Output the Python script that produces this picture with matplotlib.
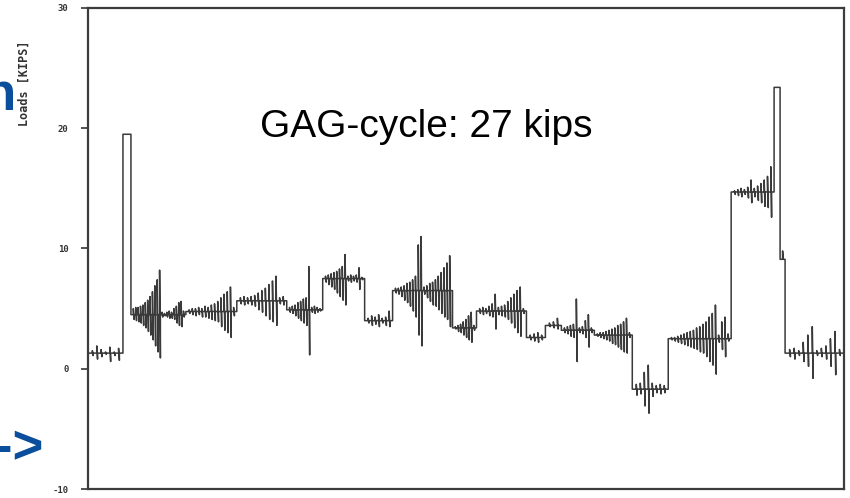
import matplotlib.pyplot as plt
import numpy as np

# load blocks: start / end along the sequence, mean level, and cycle peaks/troughs [kips]
block_start = [0, 35, 43, 98, 149, 199, 235, 277, 305, 365, 389, 439, 458, 474,
               507, 545, 581, 644, 687, 693, 698]
block_end = [35, 43, 98, 149, 199, 235, 277, 305, 365, 389, 439, 458, 474, 507,
             545, 581, 644, 687, 693, 698, 757]
block_mean = [1.3, 19.5, 4.5, 4.76, 5.65, 4.9, 7.5, 4.0, 6.5, 3.4, 4.8, 2.6, 3.6, 3.2,
              2.8, -1.7, 2.5, 14.7, 23.4, 9.1, 1.3]

cycle_peaks = [
    [1.5, 1.9, 1.6, 1.4, 1.8, 1.4, 1.7],
    [],
    [5.0, 5.1, 5.1, 5.2, 5.3, 5.5, 5.7, 6.0, 6.4, 6.9, 7.4, 8.2, 4.7, 4.6, 4.7, 4.8,
     4.7, 5.0, 5.2, 5.5, 5.6, 4.8],
    [4.9, 5.0, 5.0, 5.1, 5.0, 5.2, 5.1, 5.3, 5.4, 5.6, 5.9, 6.2, 6.4, 6.8, 5.1],
    [5.9, 6.0, 5.9, 6.0, 6.1, 6.3, 6.5, 6.7, 7.0, 7.3, 7.7, 5.9, 6.0],
    [5.1, 5.2, 5.3, 5.5, 5.6, 5.8, 5.9, 8.5, 5.1, 5.2, 5.1, 5.0],
    [7.7, 7.8, 7.9, 8.0, 8.1, 8.3, 8.5, 9.5, 7.7, 7.8, 7.7, 7.8, 8.4, 7.6],
    [4.2, 4.4, 4.3, 4.5, 4.2, 4.3, 4.8],
    [6.7, 6.7, 6.8, 6.9, 7.1, 7.2, 7.4, 7.7, 10.3, 11.0, 6.8, 6.9, 7.1, 7.2, 7.4, 7.7,
     8.0, 8.4, 8.8, 9.4],
    [3.5, 3.6, 3.7, 3.9, 4.1, 4.4, 4.7, 3.6],
    [5.0, 5.1, 5.0, 5.2, 5.4, 6.2, 5.1, 5.2, 5.3, 5.6, 5.9, 6.2, 6.5, 6.8, 5.0],
    [2.8, 2.9, 3.0, 2.8],
    [3.8, 3.9, 4.2],
    [3.4, 3.5, 3.6, 3.7, 5.8, 3.4, 3.5, 4.0, 4.5, 3.4],
    [2.9, 3.0, 3.0, 3.1, 3.2, 3.3, 3.4, 3.6, 3.7, 3.9, 4.2, 3.0],
    [-1.3, -1.2, -0.3, 0.3, -1.2, -1.4, -1.3, -1.4],
    [2.6, 2.6, 2.7, 2.8, 2.9, 3.0, 3.1, 3.2, 3.4, 3.5, 3.7, 3.9, 4.3, 4.6, 5.3, 2.8,
     3.9, 4.3, 2.9],
    [14.8, 14.9, 15.0, 14.9, 15.1, 15.7, 15.0, 15.2, 15.4, 15.7, 16.0, 16.8],
    [],
    [9.8],
    [1.6, 1.7, 1.5, 2.2, 2.8, 3.5, 1.5, 1.7, 1.9, 2.5, 3.1, 1.6],
]
cycle_troughs = [
    [1.1, 0.8, 1.0, 1.2, 0.6, 1.1, 0.7],
    [],
    [4.1, 4.0, 3.9, 3.8, 3.6, 3.4, 3.1, 2.8, 2.4, 1.9, 1.4, 0.9, 4.3, 4.4, 4.3, 4.2,
     4.2, 4.1, 3.8, 3.6, 3.5, 4.3],
    [4.6, 4.5, 4.4, 4.5, 4.3, 4.3, 4.2, 4.1, 4.0, 3.9, 3.5, 3.2, 3.0, 2.6, 4.4],
    [5.4, 5.3, 5.4, 5.3, 5.2, 4.9, 4.7, 4.4, 4.1, 3.9, 3.6, 5.4, 5.3],
    [4.7, 4.6, 4.4, 4.2, 4.0, 3.8, 3.6, 1.15, 4.7, 4.6, 4.7, 4.8],
    [7.2, 7.0, 6.8, 6.6, 6.3, 6.0, 5.7, 5.3, 7.3, 7.2, 7.3, 7.2, 6.6, 7.4],
    [3.8, 3.6, 3.7, 3.5, 3.8, 3.6, 3.5],
    [6.3, 6.2, 6.0, 5.7, 5.5, 5.2, 4.8, 4.3, 2.8, 1.9, 6.2, 5.9, 5.6, 5.3, 5.2, 4.9,
     4.6, 4.3, 4.1, 3.5],
    [3.3, 3.1, 3.0, 2.8, 2.6, 2.4, 2.2, 3.2],
    [4.6, 4.5, 4.6, 4.4, 4.3, 3.3, 4.5, 4.4, 4.3, 4.1, 3.8, 3.4, 3.0, 2.7, 4.6],
    [2.4, 2.3, 2.2, 2.4],
    [3.5, 3.4, 3.3],
    [3.0, 2.9, 2.7, 2.6, 0.6, 3.0, 2.9, 2.6, 1.8, 3.0],
    [2.7, 2.6, 2.5, 2.4, 2.3, 2.1, 2.0, 1.8, 1.6, 1.4, 1.3, 2.6],
    [-2.2, -2.1, -3.1, -3.7, -2.3, -2.0, -2.1, -2.0],
    [2.4, 2.3, 2.2, 2.1, 2.0, 1.9, 1.8, 1.7, 1.6, 1.4, 1.3, 1.0, 0.6, 0.3, -0.45, 2.2,
     1.6, 1.0, 2.3],
    [14.5, 14.4, 14.3, 14.5, 14.2, 13.8, 14.3, 14.0, 13.8, 13.5, 13.4, 12.6],
    [],
    [9.1],
    [1.0, 0.8, 1.1, 0.6, 0.2, -0.8, 1.1, 1.0, 0.8, 0.2, -0.5, 1.1],
]

yticks = [-10, 0, 10, 20, 30]

# build the load history as one polyline
t, load = [], []
for s, e, m, pk, tr in zip(block_start, block_end, block_mean, cycle_peaks, cycle_troughs):
    t.append(s)
    load.append(m)
    n = len(pk)
    for i in range(n):
        p = s + (e - s) * (i + 1) / (n + 1)
        t += [p, p, p + 0.8, p + 0.8]
        load += [m, pk[i], tr[i], m]
    t.append(e)
    load.append(m)

fig = plt.figure(figsize=(8.5, 4.98), dpi=100)
ax = fig.add_axes([88 / 850, 1 - 489 / 498, 756 / 850, 481 / 498])

ax.plot(t, load, color="#3a3a3a", lw=1.1)

ax.set_xlim(0, 757)
ax.set_ylim(-10, 30)
ax.set_xticks([])
ax.set_yticks(yticks)
ax.set_yticklabels([str(v) for v in yticks], family="DejaVu Sans Mono",
                   fontsize=6.5, fontweight="bold", color="#333333")
ax.tick_params(axis="y", direction="out", length=5, width=1.3, color="#444444", pad=9)
for sp in ax.spines.values():
    sp.set_color("#3c3c3c")
    sp.set_linewidth(1.6)

fig.text(24 / 850, 1 - 83 / 498, "Loads [KIPS]", rotation=90, ha="center", va="center",
         family="DejaVu Sans Mono", fontsize=8.5, fontweight="bold", color="#333333")

ax.text(0.448, 0.732, "GAG-cycle: 27 kips", transform=ax.transAxes, ha="center",
        va="baseline", family="Liberation Sans", fontsize=28, color="black")

# cropped slide text at the left edge
fig.text(16 / 850, 1 - 110 / 498, "n", ha="right", va="baseline",
         family="Liberation Sans", fontsize=38, fontweight="bold", color="#0b4f9c")
fig.text(43 / 850, 1 - 463 / 498, "->", ha="right", va="baseline",
         family="Liberation Sans", fontsize=38, fontweight="bold", color="#0b4f9c")

plt.savefig("out.png", dpi=100)
